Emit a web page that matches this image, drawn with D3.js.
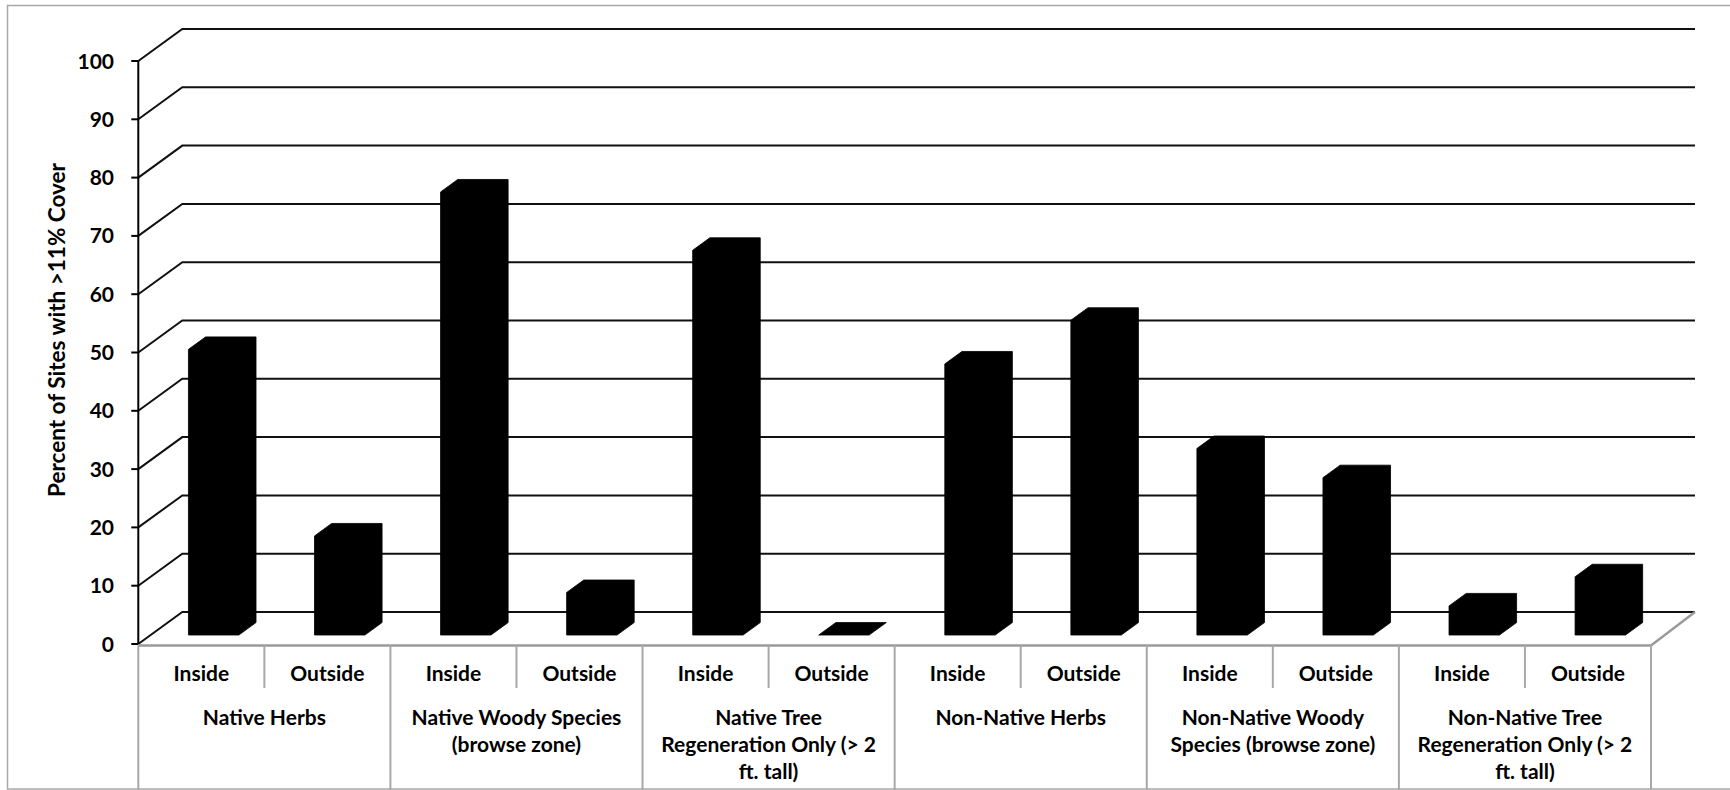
<!DOCTYPE html>
<html>
<head>
<meta charset="utf-8">
<script src="https://cdn.jsdelivr.net/npm/d3@7"></script>
<style>
  html, body { margin: 0; padding: 0; background: #fff; }
  svg { display: block; }
  text { font-family: Lato, "Open Sans", sans-serif; font-weight: 700; fill: #000; }
</style>
</head>
<body>
<svg id="chart" width="1730" height="790"></svg>
<script>
// ---- data ----
const groups = [
  "Native Herbs",
  "Native Woody Species (browse zone)",
  "Native Tree Regeneration Only (> 2 ft. tall)",
  "Non-Native Herbs",
  "Non-Native Woody Species (browse zone)",
  "Non-Native Tree Regeneration Only (> 2 ft. tall)"
];
// wrapped lines of each group label
const groupLabelLines = [
  ["Native Herbs"],
  ["Native Woody Species", "(browse zone)"],
  ["Native Tree", "Regeneration Only (> 2", "ft. tall)"],
  ["Non-Native Herbs"],
  ["Non-Native Woody", "Species (browse zone)"],
  ["Non-Native Tree", "Regeneration Only (> 2", "ft. tall)"]
];
const sites = ["Inside", "Outside"];
const insideValues  = [49, 76, 66, 46.5, 32, 5];
const outsideValues = [17, 7.3, 0, 54, 27, 10];
const yTicks = [0, 10, 20, 30, 40, 50, 60, 70, 80, 90, 100];
const yTitle = "Percent of Sites with >11% Cover";

// ---- layout ----
const svg = d3.select("#chart");
const plotLeft = 138.3, plotRight = 1651;
const DX = 44, DY = 32;          // oblique depth offset of the back wall
const barZ0 = 0.28, barZ1 = 0.67; // bar depth range (fraction of floor depth)

const rows = [];
groups.forEach((g, gi) => {
  sites.forEach((s, si) => {
    rows.push({ key: g + "|" + s, group: g, gi, site: s,
      value: si === 0 ? insideValues[gi] : outsideValues[gi] });
  });
});

const x = d3.scaleBand()
  .domain(rows.map(d => d.key))
  .range([plotLeft, plotRight])
  .paddingInner(0.6)
  .paddingOuter(0.3);
const step = x.step();

const y = d3.scaleLinear().domain([0, 100]).range([644, 61]);

// project a point on the front plane (px, value) back by depth z
const proj = (px, v, z) => [px + z * DX, y(v) - z * DY];

// ---- chart frame ----
svg.append("rect")
  .attr("x", 7.5).attr("y", 5.5)
  .attr("width", 1740).attr("height", 783.5)
  .attr("fill", "none").attr("stroke", "#a8a8a8").attr("stroke-width", 1.5);

// ---- side wall + back wall gridlines ----
const line = d3.line();
svg.append("g").selectAll("path")
  .data(yTicks)
  .join("path")
  .attr("d", v => line([proj(plotLeft, v, 0), proj(plotLeft, v, 1), proj(plotRight, v, 1)]))
  .attr("fill", "none")
  .attr("stroke", "#111")
  .attr("stroke-width", 2);

// ---- floor edges ----
svg.append("path")
  .attr("d", line([[plotLeft, y(0) + 1.5], [plotRight, y(0) + 1.5], proj(plotRight, 0, 1)]))
  .attr("fill", "none").attr("stroke", "#9a9a9a").attr("stroke-width", 2.5);

// ---- value axis ----
const yAxis = svg.append("g");
yAxis.append("line")
  .attr("x1", plotLeft).attr("x2", plotLeft)
  .attr("y1", y(100)).attr("y2", y(0))
  .attr("stroke", "#000").attr("stroke-width", 2);
yAxis.selectAll("line.tick")
  .data(yTicks)
  .join("line")
  .attr("class", "tick")
  .attr("x1", plotLeft - 7).attr("x2", plotLeft)
  .attr("y1", d => y(d)).attr("y2", d => y(d))
  .attr("stroke", "#000").attr("stroke-width", 2);
yAxis.selectAll("text")
  .data(yTicks)
  .join("text")
  .attr("x", 114)
  .attr("y", d => y(d))
  .attr("dy", "0.36em")
  .attr("text-anchor", "end")
  .style("font-size", "21px")
  .text(d => d);

svg.append("text")
  .attr("transform", "translate(65,330) rotate(-90)")
  .attr("text-anchor", "middle")
  .style("font-size", "22.5px")
  .text(yTitle);

// ---- category axis ----
const catAxis = svg.append("g");
const axisTop = y(0) + 1.5;
// group dividers
d3.range(groups.length + 1).forEach(k => {
  const xx = plotLeft + k * 2 * step;
  catAxis.append("line")
    .attr("x1", xx).attr("x2", xx)
    .attr("y1", axisTop).attr("y2", 790)
    .attr("stroke", "#a8a8a8").attr("stroke-width", 2);
});
// inside / outside dividers
groups.forEach((g, k) => {
  const xx = plotLeft + (2 * k + 1) * step;
  catAxis.append("line")
    .attr("x1", xx).attr("x2", xx)
    .attr("y1", axisTop).attr("y2", 688)
    .attr("stroke", "#a8a8a8").attr("stroke-width", 2);
});
catAxis.selectAll("text.site")
  .data(rows)
  .join("text")
  .attr("class", "site")
  .attr("x", d => x(d.key) + x.bandwidth() / 2)
  .attr("y", 681)
  .attr("text-anchor", "middle")
  .style("font-size", "21px")
  .text(d => d.site);
groupLabelLines.forEach((lines, gi) => {
  const cx = plotLeft + (2 * gi + 1) * step;
  catAxis.append("text")
    .attr("text-anchor", "middle")
    .style("font-size", "21px")
    .selectAll("tspan")
    .data(lines)
    .join("tspan")
    .attr("x", cx)
    .attr("y", (d, i) => 725 + i * 27)
    .text(d => d);
});

// ---- 3D bars (solid black silhouette of front, side and top faces) ----
svg.append("g").selectAll("path")
  .data(rows)
  .join("path")
  .attr("d", d => {
    const xl = x(d.key), xr = xl + x.bandwidth(), v = d.value;
    return line([
      proj(xl, 0, barZ0), proj(xl, v, barZ0), proj(xl, v, barZ1),
      proj(xr, v, barZ1), proj(xr, 0, barZ1), proj(xr, 0, barZ0)
    ]) + "Z";
  })
  .attr("fill", "#000")
  .attr("stroke", "#000")
  .attr("stroke-width", 0.8)
  .attr("stroke-linejoin", "round");
</script>
</body>
</html>
